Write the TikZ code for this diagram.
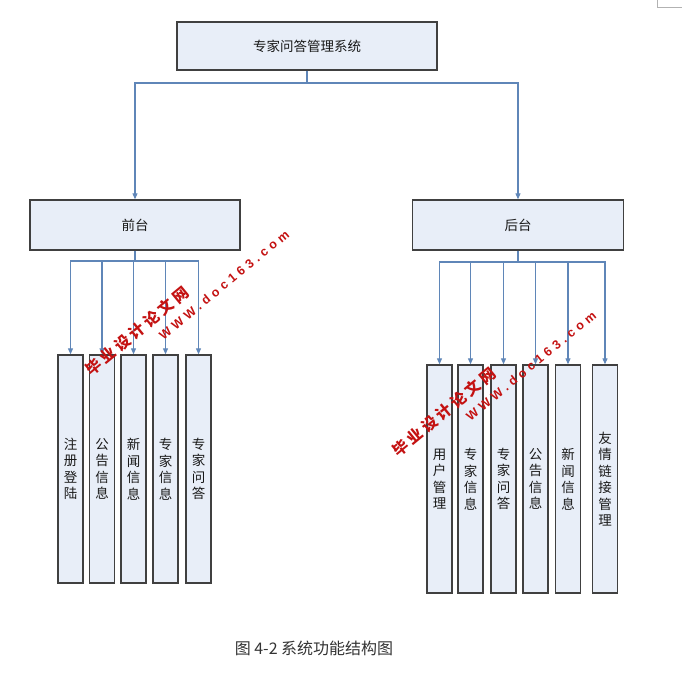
\documentclass[tikz,border=0pt]{standalone}
\usepackage{fontspec}
\newfontfamily\cjk{Noto Sans CJK SC}
\newfontfamily\cjkwm[LetterSpace=22]{Noto Sans CJK SC}
\newfontfamily\wmlat[LetterSpace=33]{Liberation Sans}
\usetikzlibrary{arrows.meta}
\definecolor{boxfill}{HTML}{E8EEF8}
\definecolor{boxline}{HTML}{404040}
\definecolor{connc}{HTML}{5F86B8}
\definecolor{wmred}{HTML}{C41212}
\tikzset{
  box/.style={draw=boxline, line width=1.4pt, fill=boxfill, inner sep=0pt,
    text=black!90, font=\cjk\fontsize{13.5}{16.5}\selectfont},
  vbox/.style={box, minimum width=25pt, minimum height=228pt, align=center},
  conn/.style={draw=connc, line width=1.1pt},
  arr/.style={conn, -{Triangle[length=6pt,width=5pt]}},
  wmcn/.style={text=wmred, inner sep=0pt, font=\cjkwm\bfseries\fontsize{15.5}{15.5}\selectfont},
  wmen/.style={text=wmred, inner sep=0pt, font=\wmlat\bfseries\fontsize{12.5}{12.5}\selectfont}
}
\begin{document}
\begin{tikzpicture}[x=1pt,y=-1pt]
\useasboundingbox (0,0) rectangle (682,681);
\fill[white] (0,0) rectangle (682,681);
% page corner mark
\draw[gray!60, line width=1pt] (657,0) -- (657,7) -- (682,7);

% top levels
\node[box, minimum width=260pt, minimum height=48pt] (sys) at (307,46) {专家问答管理系统};
\node[box, minimum width=210pt, minimum height=50pt] (fr) at (135,225) {前台};
\node[box, minimum width=211pt, minimum height=50pt] (bk) at (518,225) {后台};

\coordinate (topbus) at (307,83);
\draw[conn] (sys.south) -- (topbus);
\draw[arr] (topbus) -| (fr.north);
\draw[arr] (topbus) -| (bk.north);

% front children
\node[vbox] (f1) at (70.5,469) {注\\册\\登\\陆};
\node[vbox] (f2) at (102,469) {公\\告\\信\\息};
\node[vbox] (f3) at (133.5,469) {新\\闻\\信\\息};
\node[vbox] (f4) at (165.5,469) {专\\家\\信\\息};
\node[vbox] (f5) at (198.5,469) {专\\家\\问\\答};

\coordinate (frbus) at (135,261);
\draw[conn] (fr.south) -- (frbus);
\foreach \c in {f1,f2,f3,f4,f5} \draw[arr] (frbus) -| (\c.north);

% back children
\node[vbox] (b1) at (439.5,479) {用\\户\\管\\理};
\node[vbox] (b2) at (470.5,479) {专\\家\\信\\息};
\node[vbox] (b3) at (503.5,479) {专\\家\\问\\答};
\node[vbox] (b4) at (535.5,479) {公\\告\\信\\息};
\node[vbox] (b5) at (568,479) {新\\闻\\信\\息};
\node[vbox] (b6) at (605,479) {友\\情\\链\\接\\管\\理};

\coordinate (bkbus) at (518,262);
\draw[conn] (bk.south) -- (bkbus);
\foreach \c in {b1,b2,b3,b4,b5,b6} \draw[arr] (bkbus) -| (\c.north);

% caption
\node[font=\cjk\fontsize{16}{18}\selectfont, text=black!80] (cap) at (314,648) {图 4-2 系统功能结构图};

% watermarks
\node[wmcn, rotate=39.5] (wm1) at (137,331) {毕业设计论文网};
\node[wmen, rotate=39.5] (wm2) at (224,285) {WWW.doc163.com};
\node[wmcn, rotate=39.5] (wm3) at (444,412) {毕业设计论文网};
\node[wmen, rotate=39.5] (wm4) at (531,366) {WWW.doc163.com};
\end{tikzpicture}
\end{document}
